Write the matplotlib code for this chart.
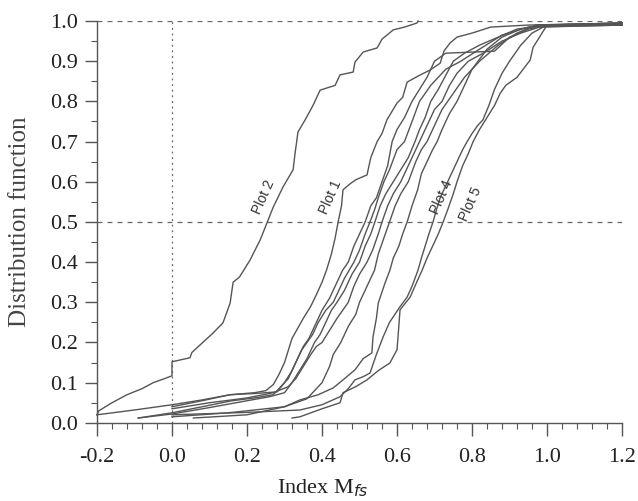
import matplotlib
matplotlib.use("Agg")
import matplotlib.pyplot as plt
from matplotlib.ticker import MultipleLocator, FormatStrFormatter

# ---- data ----
plot2_x = [-0.2, -0.195, -0.16, -0.12, -0.08, -0.05, -0.02, 0.0, 0.0, 0.048, 0.053, 0.075, 0.11, 0.136, 0.155, 0.163,
           0.18, 0.208, 0.235, 0.253, 0.27, 0.296, 0.323, 0.328, 0.336, 0.355, 0.376, 0.395, 0.435, 0.448, 0.483,
           0.488, 0.51, 0.547, 0.56, 0.59, 0.62, 0.653, 0.656]
plot2_y = [0.02, 0.03, 0.05, 0.07, 0.085, 0.10, 0.11, 0.117, 0.152, 0.162, 0.175, 0.194, 0.224, 0.249, 0.298, 0.35,
           0.363, 0.405, 0.455, 0.497, 0.537, 0.587, 0.63, 0.67, 0.724, 0.754, 0.79, 0.828, 0.84, 0.866, 0.873,
           0.898, 0.923, 0.933, 0.955, 0.978, 0.985, 0.995, 1.0]

plot1_x = [0.0, 0.08, 0.155, 0.22, 0.25, 0.27, 0.285, 0.30, 0.31, 0.32, 0.335, 0.35, 0.37, 0.387, 0.40, 0.412, 0.425,
           0.435, 0.443, 0.452, 0.456, 0.475, 0.49, 0.52, 0.53, 0.547, 0.56, 0.573, 0.60, 0.615, 0.627, 0.66, 0.688,
           0.715, 0.725, 0.741, 0.76, 0.80, 0.85, 0.95, 1.05, 1.2]
plot1_y = [0.04, 0.055, 0.07, 0.075, 0.08, 0.095, 0.12, 0.15, 0.18, 0.21, 0.235, 0.26, 0.29, 0.323, 0.35, 0.38, 0.42,
           0.46, 0.50, 0.54, 0.58, 0.595, 0.605, 0.617, 0.66, 0.70, 0.72, 0.754, 0.796, 0.81, 0.848, 0.865, 0.878,
           0.895, 0.925, 0.945, 0.96, 0.97, 0.985, 0.99, 0.992, 0.995]

m1_x = [-0.2, -0.1, 0.0, 0.08, 0.155, 0.22, 0.28, 0.30, 0.32, 0.335, 0.35, 0.365, 0.38, 0.40, 0.42, 0.44, 0.455, 0.47,
        0.485, 0.50, 0.515, 0.53, 0.545, 0.56, 0.575, 0.587, 0.60, 0.62, 0.64, 0.66, 0.68, 0.70, 0.73, 0.86, 0.90,
        0.95, 1.0, 1.2]
m1_y = [0.02, 0.032, 0.045, 0.057, 0.07, 0.073, 0.077, 0.10, 0.13, 0.16, 0.19, 0.21, 0.24, 0.28, 0.31, 0.35, 0.38,
        0.40, 0.44, 0.47, 0.50, 0.54, 0.56, 0.60, 0.64, 0.70, 0.73, 0.76, 0.80, 0.83, 0.86, 0.90, 0.92, 0.925, 0.96,
        0.98, 0.99, 0.99]

m2_x = [-0.09, 0.0, 0.08, 0.16, 0.22, 0.27, 0.29, 0.31, 0.33, 0.345, 0.36, 0.375, 0.39, 0.41, 0.43, 0.445, 0.46,
        0.485, 0.50, 0.515, 0.528, 0.54, 0.55, 0.565, 0.58, 0.60, 0.62, 0.64, 0.66, 0.69, 0.73, 0.77, 0.82, 0.88,
        0.95, 1.2]
m2_y = [0.012, 0.025, 0.04, 0.055, 0.062, 0.07, 0.09, 0.11, 0.15, 0.18, 0.20, 0.22, 0.25, 0.28, 0.30, 0.33, 0.36,
        0.40, 0.43, 0.47, 0.50, 0.53, 0.56, 0.60, 0.63, 0.68, 0.70, 0.75, 0.80, 0.84, 0.88, 0.90, 0.93, 0.965,
        0.985, 0.99]

m3_x = [-0.09, 0.0, 0.1, 0.2, 0.26, 0.3, 0.32, 0.34, 0.36, 0.38, 0.395, 0.41, 0.425, 0.44, 0.46, 0.48, 0.50, 0.515,
        0.53, 0.541, 0.555, 0.57, 0.59, 0.61, 0.63, 0.648, 0.66, 0.675, 0.69, 0.71, 0.75, 0.78, 0.82, 0.87, 0.92,
        1.0, 1.2]
m3_y = [0.012, 0.022, 0.038, 0.055, 0.065, 0.075, 0.10, 0.13, 0.16, 0.20, 0.22, 0.25, 0.28, 0.30, 0.33, 0.37, 0.40,
        0.44, 0.47, 0.50, 0.54, 0.57, 0.60, 0.63, 0.66, 0.70, 0.73, 0.76, 0.80, 0.83, 0.90, 0.92, 0.94, 0.96, 0.98,
        0.99, 0.995]

m4_x = [0.0, 0.1, 0.2, 0.27, 0.31, 0.33, 0.35, 0.37, 0.385, 0.40, 0.42, 0.44, 0.47, 0.485, 0.50, 0.52, 0.535, 0.55,
        0.56, 0.575, 0.59, 0.61, 0.625, 0.64, 0.66, 0.68, 0.70, 0.72, 0.74, 0.76, 0.79, 0.83, 0.88, 0.93, 0.98, 1.2]
m4_y = [0.035, 0.05, 0.062, 0.075, 0.09, 0.11, 0.14, 0.17, 0.19, 0.20, 0.23, 0.26, 0.30, 0.34, 0.37, 0.40, 0.43,
        0.47, 0.50, 0.54, 0.57, 0.60, 0.63, 0.66, 0.70, 0.74, 0.78, 0.80, 0.84, 0.87, 0.90, 0.92, 0.95, 0.97, 0.985,
        0.99]

m5_x = [0.0, 0.15, 0.3, 0.36, 0.38, 0.40, 0.42, 0.43, 0.45, 0.47, 0.49, 0.50, 0.52, 0.54, 0.55, 0.565, 0.58, 0.595,
        0.61, 0.63, 0.65, 0.665, 0.68, 0.70, 0.72, 0.75, 0.78, 0.82, 0.87, 0.92, 0.97, 1.2]
m5_y = [0.015, 0.025, 0.04, 0.06, 0.08, 0.10, 0.14, 0.17, 0.20, 0.24, 0.27, 0.30, 0.34, 0.38, 0.42, 0.46, 0.50,
        0.54, 0.57, 0.60, 0.65, 0.68, 0.70, 0.74, 0.78, 0.82, 0.86, 0.90, 0.94, 0.97, 0.99, 0.995]

r1_x = [0.057, 0.2, 0.3, 0.341, 0.39, 0.43, 0.46, 0.488, 0.51, 0.533, 0.536, 0.545, 0.55, 0.568, 0.581, 0.59, 0.605,
        0.615, 0.627, 0.64, 0.655, 0.665, 0.68, 0.695, 0.707, 0.72, 0.74, 0.76, 0.78, 0.80, 0.84, 0.88, 0.93, 0.98,
        1.2]
r1_y = [0.012, 0.02, 0.04, 0.057, 0.07, 0.087, 0.11, 0.132, 0.16, 0.174, 0.214, 0.26, 0.298, 0.348, 0.38, 0.41,
        0.44, 0.47, 0.50, 0.54, 0.58, 0.62, 0.65, 0.68, 0.70, 0.73, 0.77, 0.80, 0.84, 0.88, 0.93, 0.96, 0.98, 0.99,
        0.99]

plot4_x = [0.0, 0.2, 0.341, 0.40, 0.448, 0.47, 0.488, 0.51, 0.528, 0.545, 0.563, 0.58, 0.608, 0.627, 0.64, 0.656,
           0.665, 0.675, 0.685, 0.696, 0.705, 0.715, 0.73, 0.745, 0.76, 0.775, 0.787, 0.80, 0.815, 0.829, 0.845,
           0.86, 0.88, 0.90, 0.93, 0.96, 1.0, 1.2]
plot4_y = [0.02, 0.026, 0.032, 0.045, 0.065, 0.085, 0.107, 0.115, 0.124, 0.17, 0.214, 0.25, 0.289, 0.313, 0.34,
           0.38, 0.41, 0.44, 0.47, 0.50, 0.53, 0.56, 0.59, 0.62, 0.65, 0.68, 0.70, 0.72, 0.74, 0.754, 0.79, 0.83,
           0.87, 0.90, 0.94, 0.97, 0.99, 0.99]

plot5_x = [0.32, 0.341, 0.40, 0.448, 0.456, 0.49, 0.52, 0.55, 0.581, 0.60, 0.604, 0.608, 0.635, 0.65, 0.667, 0.68,
           0.695, 0.71, 0.723, 0.735, 0.75, 0.76, 0.775, 0.79, 0.803, 0.82, 0.84, 0.86, 0.875, 0.89, 0.92, 0.955,
           0.963, 0.98, 1.0, 1.2]
plot5_y = [0.012, 0.015, 0.035, 0.05, 0.075, 0.09, 0.107, 0.13, 0.149, 0.182, 0.23, 0.281, 0.313, 0.345, 0.38,
           0.41, 0.44, 0.47, 0.50, 0.53, 0.57, 0.60, 0.64, 0.67, 0.70, 0.73, 0.76, 0.79, 0.82, 0.84, 0.86, 0.903,
           0.935, 0.96, 0.99, 0.995]

labels = ["Plot 2", "Plot 1", "Plot 4", "Plot 5"]
label_x = [0.243, 0.424, 0.72, 0.795]
label_y = [0.562, 0.562, 0.562, 0.545]

x_ticks = [-0.2, 0.0, 0.2, 0.4, 0.6, 0.8, 1.0, 1.2]
y_ticks = [0.0, 0.1, 0.2, 0.3, 0.4, 0.5, 0.6, 0.7, 0.8, 0.9, 1.0]

curves = [(plot2_x, plot2_y), (plot1_x, plot1_y), (m1_x, m1_y), (m2_x, m2_y), (m3_x, m3_y),
          (m4_x, m4_y), (m5_x, m5_y), (r1_x, r1_y), (plot4_x, plot4_y), (plot5_x, plot5_y)]

# ---- figure ----
fig = plt.figure(figsize=(6.38, 5.01), dpi=100)
ax = fig.add_axes([0.152, 0.156, 0.823, 0.802])

line_col = "#555555"
for xs, ys in curves:
    ax.plot(xs, ys, color=line_col, lw=1.0, clip_on=False, zorder=3)

# reference lines
ax.axhline(0.5, color="#666666", lw=0.9, ls=(0, (4, 4)), zorder=1)
ax.axhline(1.0, color="#666666", lw=0.9, ls=(0, (4, 4)), zorder=1)
ax.axvline(0.0, color="#666666", lw=0.9, ls=(0, (1.5, 3)), zorder=1)

for t, lx, ly in zip(labels, label_x, label_y):
    ax.text(lx, ly, t, rotation=66, ha="center", va="center", fontsize=10,
            family="Liberation Sans", color="#333333")

ax.set_xlim(-0.2, 1.2)
ax.set_ylim(0.0, 1.0)
ax.set_xticks(x_ticks)
ax.set_yticks(y_ticks)
ax.xaxis.set_minor_locator(MultipleLocator(0.04))
ax.yaxis.set_minor_locator(MultipleLocator(0.05))
ax.xaxis.set_major_formatter(FormatStrFormatter("%.1f"))
ax.yaxis.set_major_formatter(FormatStrFormatter("%.1f"))

for s in ["top", "right"]:
    ax.spines[s].set_visible(False)
for s in ["left", "bottom"]:
    ax.spines[s].set_color("#555555")
    ax.spines[s].set_linewidth(1.0)

ax.tick_params(which="major", direction="out", length=9, width=1.0, color="#555555",
               labelsize=16, labelcolor="#222222")
ax.tick_params(axis="x", which="major", pad=9)
ax.tick_params(axis="y", which="major", pad=5)
ax.tick_params(which="minor", direction="out", length=4, width=0.8, color="#555555")
for lab in ax.get_xticklabels() + ax.get_yticklabels():
    lab.set_family("Liberation Serif")

ax.set_xlabel(r"Index M$_{\mathit{fs}}$", fontsize=16, family="Liberation Serif", color="#222222")
ax.xaxis.set_label_coords(0.43, -0.135)
ax.set_ylabel("Distribution function", fontsize=18, family="Liberation Serif", color="#444444")
ax.yaxis.set_label_coords(-0.125, 0.5)

fig.savefig("out.png", dpi=100)
